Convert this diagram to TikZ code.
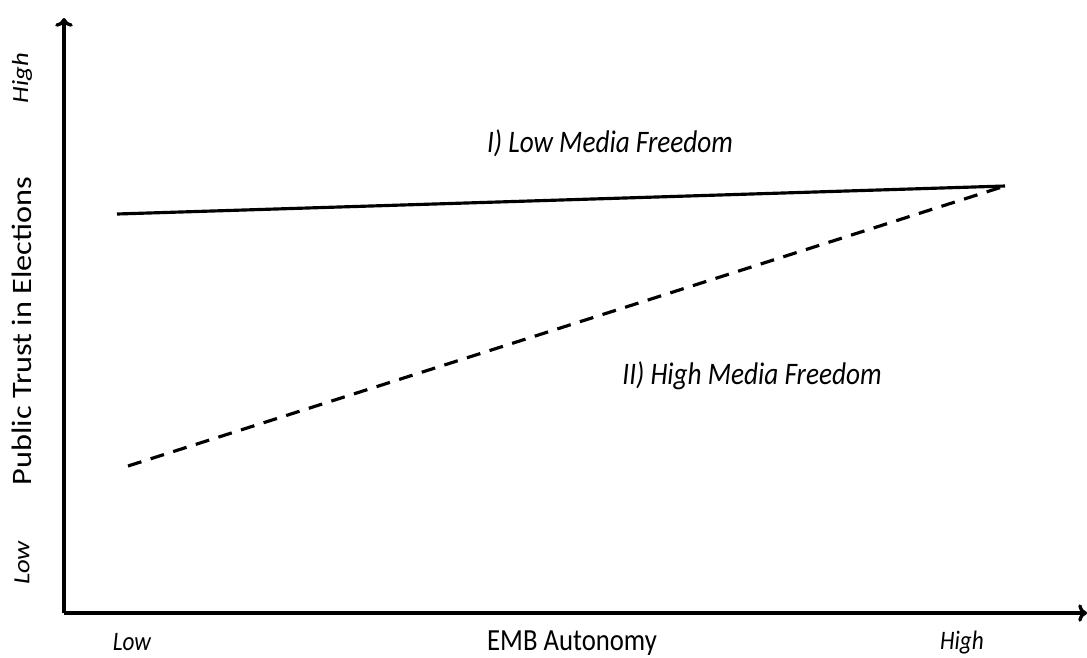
\documentclass[tikz,border=0pt]{standalone}
\usepackage{fontspec}
\setmainfont{Carlito}
\usepackage{xcolor}
\usetikzlibrary{arrows.meta}
\begin{document}
\begin{tikzpicture}[x=0.02cm, y=-0.02cm,
    axis/.style={line width=1.9pt, ->, >={To[length=5pt, width=10pt]}},
    trend/.style={line width=1.8pt},
    tall/.style={yscale=1.15},
    tallrot/.style={rotate=90, xscale=1.15},
    tick/.style={font=\itshape\fontsize{13.2}{16}\selectfont},
    caption/.style={tall, font=\itshape\fontsize{15.5}{18}\selectfont}]
    \useasboundingbox (0, 0) rectangle (1087, 657);

    % axes
    \coordinate (origin) at (64, 613);
    \coordinate (ytop) at (64, 18);
    \coordinate (xend) at (1087, 613);
    \draw[axis] (origin) -- (ytop);
    \draw[axis] (origin) -- (xend);

    % axis labels
    \node[tallrot, font=\fontsize{16}{20}\selectfont] (ylabel) at (22, 331) {Public Trust in Elections};
    \node[tall, font=\fontsize{15.2}{18}\selectfont] (xlabel) at (572, 643) {EMB Autonomy};
    \node[tick, tallrot] (yhigh) at (22, 78) {High};
    \node[tick, tallrot] (ylow) at (22, 563) {Low};
    \node[tick, tall] (xlow) at (132, 642) {Low};
    \node[tick, tall] (xhigh) at (962, 643) {High};

    % the two lines
    \coordinate (lowstart) at (117, 214);
    \coordinate (highstart) at (128, 466);
    \coordinate (meet) at (1005, 186);
    \draw[trend] (lowstart) -- (meet);
    \draw[trend, dash pattern=on 8pt off 5.5pt] (highstart) -- (meet);

    \node[caption] (lowfree) at (610, 143) {I) Low Media Freedom};
    \node[caption] (highfree) at (752, 376) {II) High Media Freedom};
\end{tikzpicture}
\end{document}
